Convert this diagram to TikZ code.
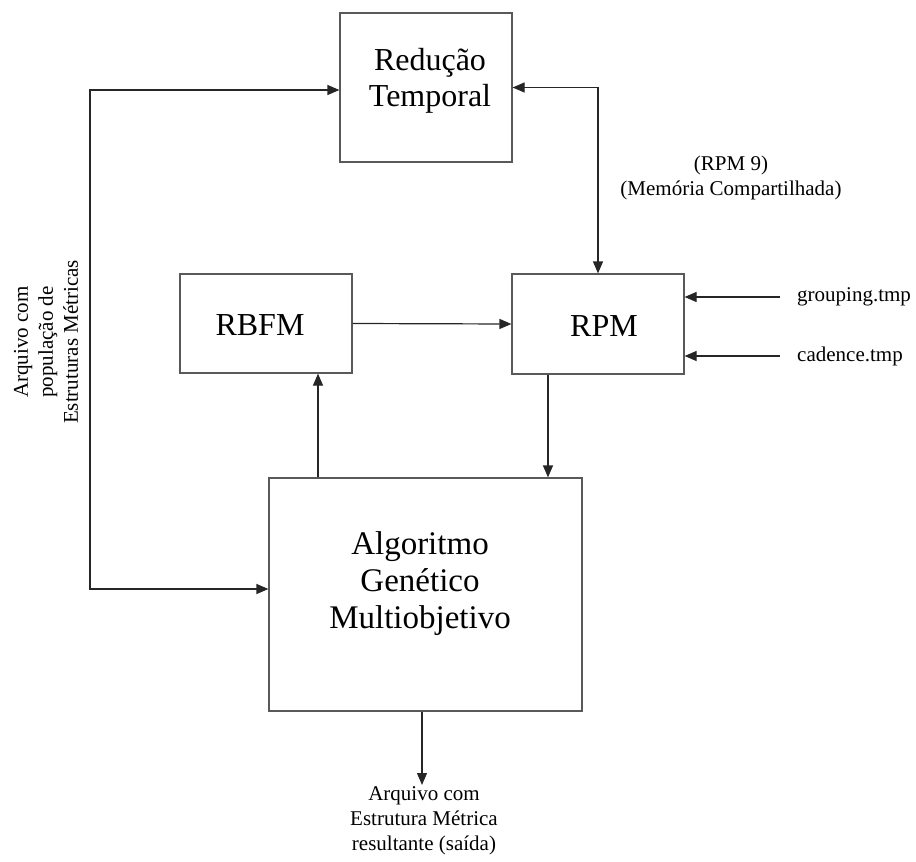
\documentclass[tikz,border=0pt]{standalone}
\usepackage{fontspec}
\setmainfont{Liberation Serif}
\usetikzlibrary{arrows.meta}
\begin{document}
\begin{tikzpicture}[x=1pt,y=-1pt,
  box/.style={draw=black!65,line width=1.2pt,rectangle,inner sep=0pt},
  big/.style={font=\fontsize{32}{36}\selectfont,align=center,inner sep=0pt},
  small/.style={font=\fontsize{21}{25}\selectfont,align=center,inner sep=0pt},
  arr/.style={draw=black!85,line width=1.2pt,-{Triangle[length=12pt,width=10pt]}},
  darr/.style={draw=black!85,line width=1.2pt,{Triangle[length=12pt,width=10pt]}-{Triangle[length=12pt,width=10pt]}}]
\useasboundingbox (0,0) rectangle (916,862);
% boxes
\node[box,minimum width=172,minimum height=149] (red) at (426,87.5) {};
\node[big] (redtxt) at (430,81) {Redução\\Temporal};
\node[box,minimum width=172,minimum height=99] (rbfm) at (266,323.5) {};
\node[big] (rbfmtxt) at (260,325) {RBFM};
\node[box,minimum width=172,minimum height=100] (rpm) at (598,324) {};
\node[big] (rpmtxt) at (604,326) {RPM};
\node[box,minimum width=313,minimum height=233] (algo) at (425.5,594.5) {};
\node[big,font=\fontsize{33}{37}\selectfont] (algotxt) at (420,584) {Algoritmo\\Genético\\Multiobjetivo};
% labels
\node[small] (shm) at (731,178) {(RPM 9)\\(Memória Compartilhada)};
\node[small,anchor=west] (grp) at (797,297) {grouping.tmp};
\node[small,anchor=west] (cad) at (797,356) {cadence.tmp};
\node[small] (out) at (424,821) {Arquivo com\\Estrutura Métrica\\resultante (saída)};
\node[small,rotate=90] (pop) at (46,342) {Arquivo com\\população de\\Estruturas Métricas};
% coordinates
\coordinate (loopT) at (90,90);
\coordinate (loopB) at (90,589);
\coordinate (c1) at (318,0);
\coordinate (c2) at (548,0);
\coordinate (g1) at (780,297);
\coordinate (g2) at (780,356);
\coordinate (o1) at (422,0);
\coordinate (oend) at (422,785);
% connectors
\draw[darr] (red.west |- loopT) -- (loopT) -- (loopB) -- (algo.west |- loopB);
\draw[darr] (red.east) -| (rpm.north);
\draw[arr] (rbfm.east) -- (rpm.west);
\draw[arr] (c1 |- algo.north) -- (c1 |- rbfm.south);
\draw[arr] (c2 |- rpm.south) -- (c2 |- algo.north);
\draw[arr] (g1) -- (g1 -| rpm.east);
\draw[arr] (g2) -- (g2 -| rpm.east);
\draw[arr] (o1 |- algo.south) -- (oend);
\end{tikzpicture}
\end{document}
